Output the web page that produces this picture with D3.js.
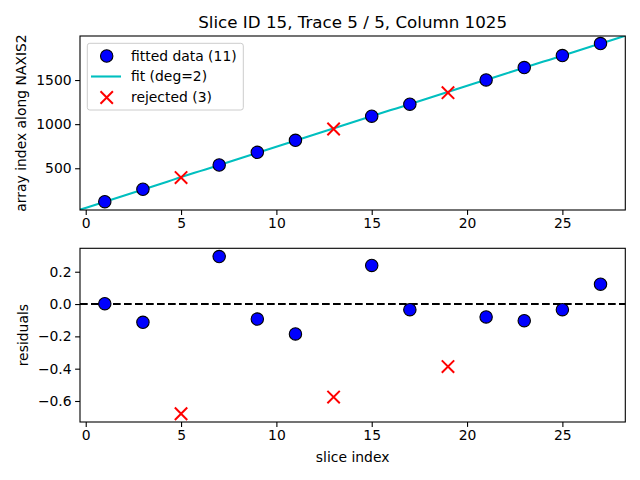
<!DOCTYPE html>
<html>
<head>
<meta charset="utf-8">
<script src="https://cdn.jsdelivr.net/npm/d3@7"></script>
<style>
  body { margin: 0; background: #fff; }
  text { font-family: "DejaVu Sans", sans-serif; fill: #000; }
</style>
</head>
<body>
<div id="chart"></div>
<script>
// slices used in the fit and their measured positions
const fittedX = [1, 3, 7, 9, 11, 15, 17, 21, 23, 25, 27];
const fittedY = [121, 262, 537, 681, 817, 1090, 1226, 1501, 1641, 1777, 1913];
const fittedRes = [0.002, -0.113, 0.294, -0.093, -0.185, 0.239, -0.035, -0.080, -0.103, -0.035, 0.123];

// rejected slices
const rejectedX = [5, 13, 19];
const rejectedY = [394, 945, 1357];
const rejectedRes = [-0.679, -0.576, -0.387];

// fit polynomial coefficients (deg=2): c0 + c1*x + c2*x^2
const fitCoef = [51.4, 69.6, -0.024];

const xTicks = [0, 5, 10, 15, 20, 25];
const topTicks = [500, 1000, 1500];
const botTicks = [0.2, 0.0, -0.2, -0.4, -0.6];

const width = 640, height = 480;
const margin = { left: 80, right: 640 - 625.3 };
const topBox = { top: 36, bottom: 210 };
const botBox = { top: 248.3, bottom: 422 };

const svg = d3.select("#chart").append("svg")
    .attr("width", width)
    .attr("height", height);

const x = d3.scaleLinear()
    .domain([-0.3, 28.3])
    .range([margin.left, width - margin.right]);

const yTop = d3.scaleLinear()
    .domain([27, 1999])
    .range([topBox.bottom, topBox.top]);

const yBot = d3.scaleLinear()
    .domain([-0.730, 0.345])
    .range([botBox.bottom, botBox.top]);

const fmtMinus = s => s.replace("-", "\u2212");

function drawAxes(y, box, yticks, yfmt) {
    const g = svg.append("g");

    const ax = g.append("g")
        .attr("transform", `translate(0,${box.bottom})`)
        .call(d3.axisBottom(x).tickValues(xTicks).tickSize(4.9).tickPadding(3.5).tickFormat(d3.format("d")));
    ax.select(".domain").remove();

    const ay = g.append("g")
        .attr("transform", `translate(${margin.left},0)`)
        .call(d3.axisLeft(y).tickValues(yticks).tickSize(4.9).tickPadding(3.5).tickFormat(yfmt));
    ay.select(".domain").remove();

    g.selectAll(".tick line").attr("stroke", "#000").attr("stroke-width", 1.1);
    g.selectAll(".tick text")
        .style("font-family", "DejaVu Sans, sans-serif")
        .style("font-size", "13.9px")
        .attr("fill", "#000");

    return g;
}

function drawFrame(box) {
    svg.append("rect")
        .attr("x", margin.left)
        .attr("y", box.top)
        .attr("width", width - margin.right - margin.left)
        .attr("height", box.bottom - box.top)
        .attr("fill", "none")
        .attr("stroke", "#000")
        .attr("stroke-width", 1.1);
}

function drawCircles(g, xs, ys, y) {
    g.selectAll("circle.pt")
        .data(xs.map((d, i) => [d, ys[i]]))
        .join("circle")
        .attr("class", "pt")
        .attr("cx", d => x(d[0]))
        .attr("cy", d => y(d[1]))
        .attr("r", 6.2)
        .attr("fill", "#0000ff")
        .attr("stroke", "#000")
        .attr("stroke-width", 1.1);
}

function crossPath(cx, cy, s) {
    return `M${cx - s},${cy - s}L${cx + s},${cy + s}M${cx - s},${cy + s}L${cx + s},${cy - s}`;
}

function drawCrosses(g, xs, ys, y) {
    g.selectAll("path.rej")
        .data(xs.map((d, i) => [d, ys[i]]))
        .join("path")
        .attr("class", "rej")
        .attr("d", d => crossPath(x(d[0]), y(d[1]), 6.2))
        .attr("stroke", "#ff0000")
        .attr("stroke-width", 2)
        .attr("fill", "none");
}

// ---------- top panel ----------
svg.append("clipPath").attr("id", "clipTop")
    .append("rect")
    .attr("x", margin.left).attr("y", topBox.top)
    .attr("width", width - margin.right - margin.left)
    .attr("height", topBox.bottom - topBox.top);

drawAxes(yTop, topBox, topTicks, d3.format("d"));

const topG = svg.append("g");

const fit = xx => fitCoef[0] + fitCoef[1] * xx + fitCoef[2] * xx * xx;
const xs = d3.range(0, 101).map(i => x.domain()[0] + (x.domain()[1] - x.domain()[0]) * i / 100);

topG.append("path")
    .datum(xs)
    .attr("clip-path", "url(#clipTop)")
    .attr("d", d3.line().x(d => x(d)).y(d => yTop(fit(d))))
    .attr("fill", "none")
    .attr("stroke", "#00bfbf")
    .attr("stroke-width", 2.1);

drawCircles(topG, fittedX, fittedY, yTop);
drawCrosses(topG, rejectedX, rejectedY, yTop);
drawFrame(topBox);

// legend
const legend = svg.append("g");
legend.append("rect")
    .attr("x", 87.3).attr("y", 43.3)
    .attr("width", 156).attr("height", 66.7)
    .attr("rx", 2.5)
    .attr("fill", "#fff").attr("fill-opacity", 0.8)
    .attr("stroke", "#cccccc").attr("stroke-width", 1);

const legendItems = ["fitted data (11)", "fit (deg=2)", "rejected (3)"];
const rowY = [56, 76.5, 97.5];

legend.append("circle")
    .attr("cx", 106.7).attr("cy", rowY[0]).attr("r", 6.2)
    .attr("fill", "#0000ff").attr("stroke", "#000").attr("stroke-width", 1.1);
legend.append("line")
    .attr("x1", 91).attr("x2", 121).attr("y1", rowY[1]).attr("y2", rowY[1])
    .attr("stroke", "#00bfbf").attr("stroke-width", 2.1);
legend.append("path")
    .attr("d", crossPath(106.7, rowY[2], 6.2))
    .attr("stroke", "#ff0000").attr("stroke-width", 2).attr("fill", "none");

legend.selectAll("text.lab")
    .data(legendItems)
    .join("text")
    .attr("class", "lab")
    .attr("x", 131)
    .attr("y", (d, i) => rowY[i])
    .attr("dy", "0.35em")
    .style("font-size", "13.9px")
    .text(d => d);

// title and y label
svg.append("text")
    .attr("x", (margin.left + width - margin.right) / 2)
    .attr("y", 28)
    .attr("text-anchor", "middle")
    .style("font-size", "16.7px")
    .text("Slice ID 15, Trace 5 / 5, Column 1025");

svg.append("text")
    .attr("transform", `translate(26,${(topBox.top + topBox.bottom) / 2}) rotate(-90)`)
    .attr("text-anchor", "middle")
    .style("font-size", "13.9px")
    .text("array index along NAXIS2");

// ---------- bottom panel ----------
drawAxes(yBot, botBox, botTicks, d => fmtMinus(d3.format(".1f")(d)));

const botG = svg.append("g");

botG.append("line")
    .attr("x1", x.range()[0]).attr("x2", x.range()[1])
    .attr("y1", yBot(0)).attr("y2", yBot(0))
    .attr("stroke", "#000")
    .attr("stroke-width", 2.1)
    .attr("stroke-dasharray", "7.7,3.3");

drawCircles(botG, fittedX, fittedRes, yBot);
drawCrosses(botG, rejectedX, rejectedRes, yBot);
drawFrame(botBox);

svg.append("text")
    .attr("transform", `translate(28,${(botBox.top + botBox.bottom) / 2}) rotate(-90)`)
    .attr("text-anchor", "middle")
    .style("font-size", "13.9px")
    .text("residuals");

svg.append("text")
    .attr("x", (margin.left + width - margin.right) / 2)
    .attr("y", 462)
    .attr("text-anchor", "middle")
    .style("font-size", "13.9px")
    .text("slice index");
</script>
</body>
</html>
